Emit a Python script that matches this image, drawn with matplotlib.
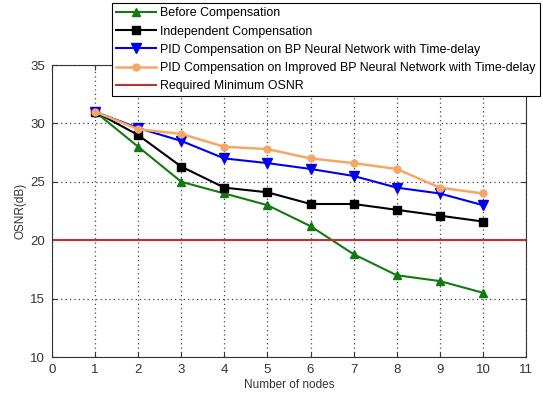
import matplotlib
matplotlib.use("Agg")
import matplotlib.pyplot as plt

plt.rcParams['font.family'] = ['Liberation Sans', 'DejaVu Sans']

nodes = [1, 2, 3, 4, 5, 6, 7, 8, 9, 10]
before = [31, 28, 25, 24, 23, 21.2, 18.8, 17, 16.5, 15.5]
independent = [31, 29, 26.3, 24.5, 24.1, 23.1, 23.1, 22.6, 22.1, 21.6]
pid_bp = [31, 29.6, 28.5, 27, 26.6, 26.1, 25.5, 24.5, 24, 23]
pid_improved = [31, 29.5, 29.1, 28, 27.8, 27, 26.6, 26.1, 24.5, 24]
min_osnr = 20

labels = ["Before Compensation",
          "Independent Compensation",
          "PID Compensation on BP Neural Network with Time-delay",
          "PID Compensation on Improved BP Neural Network with Time-delay",
          "Required Minimum OSNR"]

fig = plt.figure(figsize=(5.43, 3.94), dpi=100)
ax = fig.add_axes([52/543, 1-357/394, 474/543, 292/394])

ax.plot(nodes, before, color='#117a11', marker='^', ms=6, lw=1.5, label=labels[0])
ax.plot(nodes, independent, color='black', marker='s', ms=6, lw=1.5, label=labels[1])
ax.plot(nodes, pid_bp, color='#0000ee', marker='v', ms=7, lw=1.5, label=labels[2])
ax.plot(nodes, pid_improved, color='#f5a865', marker='o', ms=5, lw=1.8, label=labels[3])
ax.axhline(min_osnr, color='#c03030', lw=1.5, label=labels[4])

ax.set_xlim(0, 11)
ax.set_ylim(10, 35)
ax.set_xticks(range(0, 12))
ax.set_yticks(range(10, 36, 5))
ax.grid(True, linestyle=(0, (1, 2.5)), color='#444444', lw=0.9)
ax.tick_params(direction='in', top=True, right=True, labelsize=9.5, pad=5,
               colors='#333333', labelcolor='#333333')
for s in ax.spines.values():
    s.set_color('#333333')
ax.set_xlabel("Number of nodes", fontsize=8.5, color='#333333', labelpad=2)
ax.set_ylabel("OSNR(dB)", fontsize=8.5, color='#333333', labelpad=3)

leg = fig.legend(loc='upper right', bbox_to_anchor=(540/543, 1-3/394), fontsize=8.9,
                 frameon=True, fancybox=False, framealpha=1, edgecolor='black',
                 handlelength=3.2, handletextpad=0.35, labelspacing=0.5, borderpad=0.35,
                 borderaxespad=0)
leg.get_frame().set_linewidth(0.8)

fig.savefig("out.png", dpi=100)
